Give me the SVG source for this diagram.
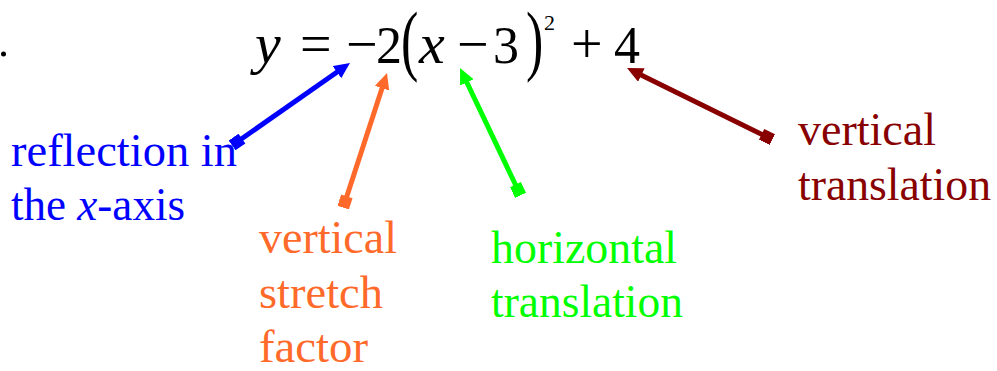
<svg xmlns="http://www.w3.org/2000/svg" width="997" height="371" viewBox="0 0 997 371">
<style>
.t{font-family:"Liberation Serif","Tinos","DejaVu Serif",serif;font-size:46px}
.eq{font-family:"Liberation Serif","Tinos","DejaVu Serif",serif;font-size:52px;fill:#000}
.v{font-style:italic;font-size:58px}
.o{font-size:56px}
.c{stroke-width:5;fill:none}
</style>
<defs>
<marker id="ab" markerUnits="userSpaceOnUse" markerWidth="20" markerHeight="20" refX="6" refY="7.5" orient="auto"><path d="M0,0 L16,7.5 L0,15 z" fill="#0000FF"/></marker>
<marker id="sb" markerUnits="userSpaceOnUse" markerWidth="14" markerHeight="14" refX="6" refY="6" orient="auto"><rect x="0" y="0" width="12" height="12" fill="#0000FF"/></marker>
<marker id="ao" markerUnits="userSpaceOnUse" markerWidth="20" markerHeight="20" refX="6" refY="7.5" orient="auto"><path d="M0,0 L16,7.5 L0,15 z" fill="#FF6A2A"/></marker>
<marker id="so" markerUnits="userSpaceOnUse" markerWidth="14" markerHeight="14" refX="6" refY="6" orient="auto"><rect x="0" y="0" width="12" height="12" fill="#FF6A2A"/></marker>
<marker id="ag" markerUnits="userSpaceOnUse" markerWidth="20" markerHeight="20" refX="6" refY="7.5" orient="auto"><path d="M0,0 L16,7.5 L0,15 z" fill="#00FF00"/></marker>
<marker id="sg" markerUnits="userSpaceOnUse" markerWidth="14" markerHeight="14" refX="6" refY="6" orient="auto"><rect x="0" y="0" width="12" height="12" fill="#00FF00"/></marker>
<marker id="ar" markerUnits="userSpaceOnUse" markerWidth="20" markerHeight="20" refX="6" refY="7.5" orient="auto"><path d="M0,0 L16,7.5 L0,15 z" fill="#880000"/></marker>
<marker id="sr" markerUnits="userSpaceOnUse" markerWidth="14" markerHeight="14" refX="6" refY="6" orient="auto"><rect x="0" y="0" width="12" height="12" fill="#880000"/></marker>
</defs>
<rect width="997" height="371" fill="#fff"/>
<circle cx="3.5" cy="54" r="2.5" fill="#000"/>
<g id="equation">
<text class="eq v" x="255" y="63">y</text>
<text class="eq o" x="300" y="63">=</text>
<text class="eq o" x="346" y="63">−</text>
<text class="eq" x="376" y="63">2</text>
<text class="eq" x="401" y="44" transform="scale(1,1.5)">(</text>
<text class="eq v" x="419" y="63">x</text>
<text class="eq o" x="457" y="63">−</text>
<text class="eq" x="493" y="63">3</text>
<text class="eq" x="526" y="44" transform="scale(1,1.5)">)</text>
<text class="eq" x="544" y="30" style="font-size:22px">2</text>
<text class="eq o" x="571" y="63">+</text>
<text class="eq" x="614" y="63">4</text>
</g>
<g id="connectors">
<line class="c" stroke="#0000FF" x1="237" y1="142" x2="341.8" y2="68.7" marker-start="url(#sb)" marker-end="url(#ab)"/>
<line class="c" stroke="#FF6A2A" x1="345" y1="202" x2="383.9" y2="82.5" marker-start="url(#so)" marker-end="url(#ao)"/>
<line class="c" stroke="#00FF00" x1="518" y1="190" x2="464.3" y2="77" marker-start="url(#sg)" marker-end="url(#ag)"/>
<line class="c" stroke="#880000" x1="767" y1="137" x2="636" y2="72.4" marker-start="url(#sr)" marker-end="url(#ar)"/>
</g>
<g id="reflection">
<text class="t" fill="#0000FF" x="11" y="166" textLength="226" lengthAdjust="spacingAndGlyphs">reflection in</text>
<text class="t" fill="#0000FF" x="11" y="220" textLength="174" lengthAdjust="spacingAndGlyphs">the <tspan font-style="italic">x</tspan>-axis</text>
</g>
<g id="stretch">
<text class="t" fill="#FF6A2A" x="259" y="253" textLength="138" lengthAdjust="spacingAndGlyphs">vertical</text>
<text class="t" fill="#FF6A2A" x="259" y="308" textLength="124" lengthAdjust="spacingAndGlyphs">stretch</text>
<text class="t" fill="#FF6A2A" x="259" y="362" textLength="109" lengthAdjust="spacingAndGlyphs">factor</text>
</g>
<g id="horizontal">
<text class="t" fill="#00FF00" x="491" y="263" textLength="186" lengthAdjust="spacingAndGlyphs">horizontal</text>
<text class="t" fill="#00FF00" x="491" y="317" textLength="192" lengthAdjust="spacingAndGlyphs">translation</text>
</g>
<g id="vertical">
<text class="t" fill="#880000" x="798" y="145" textLength="138" lengthAdjust="spacingAndGlyphs">vertical</text>
<text class="t" fill="#880000" x="798" y="200" textLength="193" lengthAdjust="spacingAndGlyphs">translation</text>
</g>
</svg>
